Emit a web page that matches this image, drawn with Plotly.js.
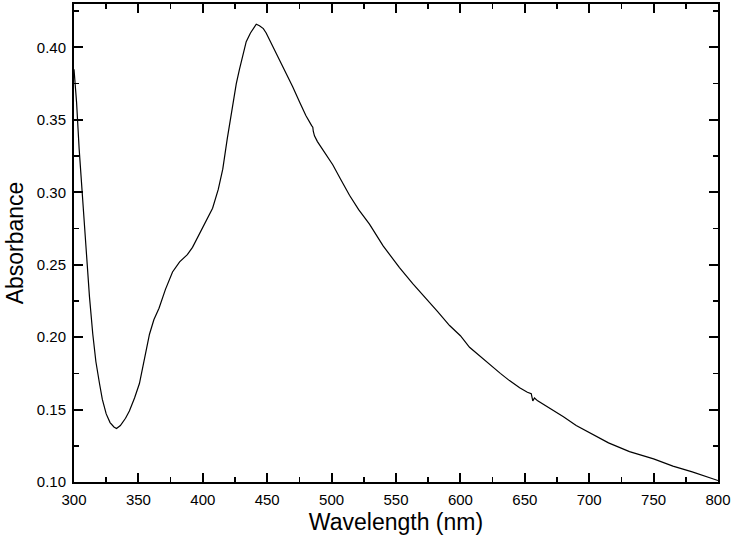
<!DOCTYPE html>
<html><head><meta charset="utf-8">
<script src="https://cdn.plot.ly/plotly-3.0.1.min.js"></script>
<style>html,body{margin:0;padding:0;background:#fff}#chart{width:733px;height:546px}</style>
</head><body><div id="chart"></div>
<script>
const wavelength = [300,302,304,306.8,309.5,312,314.6,317,319.8,322,325,328,331,333,336,340,343,347,350.8,355,358.6,362,366,371,376.5,382,388,392,397.4,402,407.6,412,415.5,419,423,426,428.5,431,433.7,437,440,441.5,444,447,449.2,452,455,459.5,465,469.7,475.3,480,484.5,485.4,485.8,486.7,489,495,500.9,507,513.9,521,529.4,540,552.7,563,573.4,582,591.6,600,607.1,615,623.9,631,638.1,646,652,655,656.2,657.5,660,669.2,680,689.9,700,715,731.3,750,765,780,800];
const absorbance = [0.385,0.362,0.33,0.294,0.259,0.228,0.202,0.183,0.168,0.157,0.147,0.141,0.138,0.137,0.139,0.144,0.149,0.158,0.168,0.186,0.202,0.212,0.220,0.233,0.245,0.252,0.257,0.262,0.271,0.279,0.289,0.302,0.316,0.337,0.360,0.375,0.385,0.395,0.404,0.410,0.414,0.416,0.415,0.413,0.410,0.405,0.399,0.391,0.382,0.373,0.362,0.353,0.346,0.345,0.342,0.339,0.335,0.327,0.319,0.309,0.298,0.288,0.278,0.263,0.248,0.237,0.227,0.218,0.208,0.201,0.193,0.187,0.180,0.175,0.170,0.165,0.162,0.161,0.156,0.158,0.156,0.151,0.145,0.139,0.134,0.127,0.121,0.116,0.111,0.107,0.101];

const FONT = 'Liberation Sans, Arial, sans-serif';
const axisCommon = {
  showline: true, linecolor: '#000', linewidth: 2, mirror: 'allticks',
  ticks: 'inside', ticklen: 9, tickwidth: 2, tickcolor: '#000',
  showgrid: false, zeroline: false,
  tickfont: {family: FONT, size: 15, color: '#000'},
};
Plotly.newPlot('chart', [{
  x: wavelength, y: absorbance, type: 'scatter', mode: 'lines',
  line: {color: '#000', width: 1.2}
}], {
  width: 733, height: 546,
  margin: {l: 74, r: 15, t: 4, b: 64},
  paper_bgcolor: '#fff', plot_bgcolor: '#fff',
  showlegend: false,
  xaxis: Object.assign({}, axisCommon, {
    range: [300, 800], dtick: 50, tick0: 300, ticklabelstandoff: 3,
    minor: {ticks: 'inside', ticklen: 5, tickwidth: 1.5, tickcolor: '#000', dtick: 25, showgrid: false},
    title: {text: 'Wavelength (nm)', standoff: 7, font: {family: FONT, size: 23, color: '#000'}}
  }),
  yaxis: Object.assign({}, axisCommon, {
    range: [0.10, 0.43], dtick: 0.05, tick0: 0.10, tickformat: '.2f', ticklabelstandoff: 3,
    minor: {ticks: 'inside', ticklen: 5, tickwidth: 1.5, tickcolor: '#000', dtick: 0.025, showgrid: false},
    title: {text: 'Absorbance', standoff: 7, font: {family: FONT, size: 23, color: '#000'}}
  })
}, {staticPlot: true});
</script></body></html>
